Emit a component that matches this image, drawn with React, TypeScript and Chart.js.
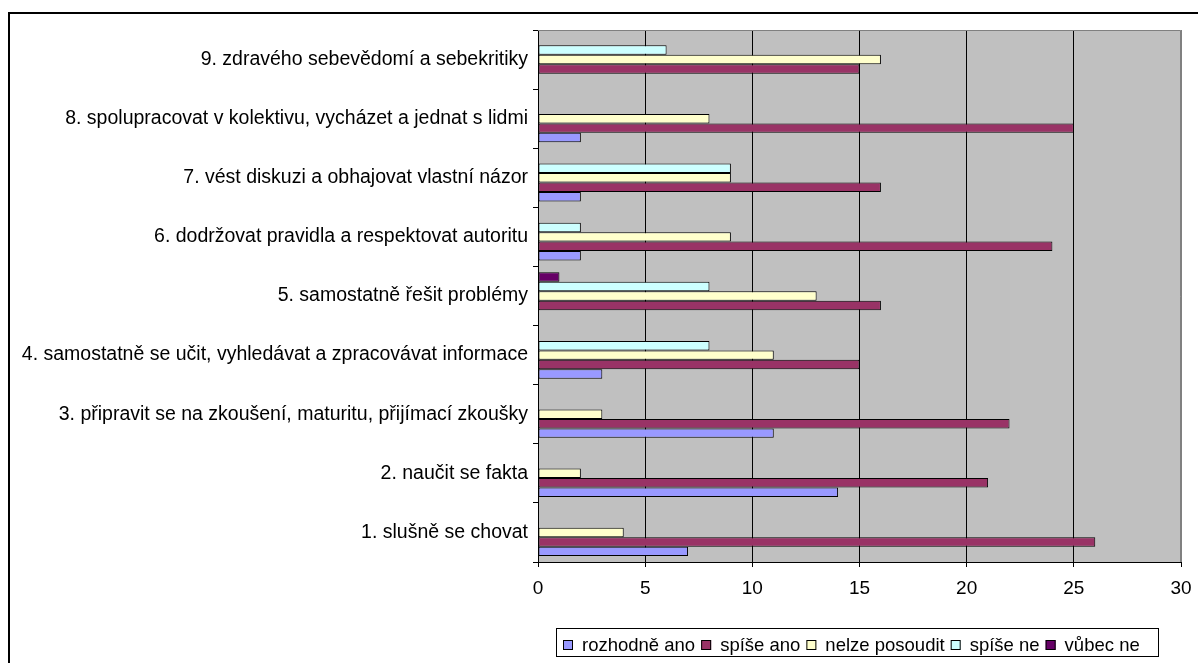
import React, { useEffect, useRef } from "react";
import { Chart, registerables } from "chart.js";

Chart.register(...registerables);

// Categories listed bottom (1) to top (9), as in the reference
const categories = [
  "1. slušně se chovat",
  "2. naučit se fakta",
  "3. připravit se na zkoušení, maturitu, přijímací zkoušky",
  "4. samostatně se učit, vyhledávat a zpracovávat informace",
  "5. samostatně řešit problémy",
  "6. dodržovat pravidla a respektovat autoritu",
  "7. vést diskuzi a obhajovat vlastní názor",
  "8. spolupracovat v kolektivu, vycházet a jednat s lidmi",
  "9. zdravého sebevědomí a sebekritiky",
];

const seriesNames = ["rozhodně ano", "spíše ano", "nelze posoudit", "spíše ne", "vůbec ne"];
const rozhodneAno = [7, 14, 11, 3, 0, 2, 2, 2, 0];
const spiseAno = [26, 21, 22, 15, 16, 24, 16, 25, 15];
const nelzePosoudit = [4, 2, 3, 11, 13, 9, 9, 8, 16];
const spiseNe = [0, 0, 0, 8, 8, 2, 9, 0, 6];
const vubecNe = [0, 0, 0, 0, 1, 0, 0, 0, 0];
const seriesColors = ["#9999FF", "#993366", "#FFFFCC", "#CCFFFF", "#660066"];
const xTicks = [0, 5, 10, 15, 20, 25, 30];

const FONT = '"Liberation Sans", Arial, sans-serif';

export default function App() {
  const ref = useRef<HTMLCanvasElement | null>(null);

  useEffect(() => {
    if (!ref.current) return;
    const allSeries = [rozhodneAno, spiseAno, nelzePosoudit, spiseNe, vubecNe];
    // chart.js draws first label at top and first dataset at top of group
    const labels = [...categories].reverse();
    const datasets = allSeries
      .map((vals, i) => ({
        label: seriesNames[i],
        data: [...vals].reverse().map((v) => (v === 0 ? null : v)),
        backgroundColor: seriesColors[i],
        borderColor: "#000000",
        borderWidth: 1,
        borderSkipped: false as const,
        categoryPercentage: 0.8,
        barPercentage: 1.0,
      }))
      .reverse();

    const decor = {
      id: "decor",
      beforeDraw(chart: any) {
        const { ctx, chartArea: a } = chart;
        ctx.save();
        ctx.fillStyle = "#ffffff";
        ctx.fillRect(0, 0, chart.width, chart.height);
        ctx.fillStyle = "#C0C0C0";
        ctx.fillRect(a.left, a.top, a.right - a.left, a.bottom - a.top);
        ctx.restore();
      },
      beforeDatasetsDraw(chart: any) {
        const { ctx, chartArea: a } = chart;
        ctx.save();
        ctx.strokeStyle = "#808080";
        ctx.lineWidth = 1;
        ctx.beginPath();
        ctx.moveTo(a.left, a.top + 0.5);
        ctx.lineTo(a.right - 0.5, a.top + 0.5);
        ctx.lineTo(a.right - 0.5, a.bottom);
        ctx.stroke();
        ctx.restore();
      },
      afterDraw(chart: any) {
        const { ctx } = chart;
        ctx.save();
        // outer frame
        ctx.fillStyle = "#000000";
        ctx.fillRect(8, 12, 2, chart.height);
        ctx.fillRect(8, 12, chart.width, 2);
        // legend box
        const boxL = 556, boxR = 1158, boxT = 628, boxB = 656;
        ctx.strokeStyle = "#000000";
        ctx.lineWidth = 1;
        ctx.strokeRect(boxL + 0.5, boxT + 0.5, boxR - boxL, boxB - boxT);
        ctx.font = "18.5px " + FONT;
        ctx.textBaseline = "middle";
        ctx.textAlign = "left";
        let x = boxL + 7;
        const cy = 645;
        seriesNames.forEach((name, i) => {
          ctx.fillStyle = seriesColors[i];
          ctx.fillRect(x, cy - 5, 10, 10);
          ctx.strokeStyle = "#000000";
          ctx.strokeRect(x + 0.5, cy - 4.5, 9, 9);
          ctx.fillStyle = "#000000";
          ctx.fillText(name, x + 19, cy + 1);
          x += 19 + ctx.measureText(name).width + 6;
        });
        ctx.restore();
      },
    };

    const chart = new Chart(ref.current, {
      type: "bar",
      data: { labels, datasets },
      options: {
        indexAxis: "y",
        animation: false,
        responsive: false,
        layout: { padding: { left: 10, top: 30, right: 17, bottom: 50 } },
        plugins: { legend: { display: false }, tooltip: { enabled: false } },
        scales: {
          x: {
            type: "linear",
            min: 0,
            max: 30,
            afterBuildTicks: (s: any) => {
              s.ticks = xTicks.map((v) => ({ value: v }));
            },
            afterFit: (s: any) => {
              s.height = 51;
              s.paddingLeft = 0;
              s.paddingRight = 0;
            },
            ticks: {
              color: "#000000",
              font: { family: FONT, size: 19 },
              padding: 10,
            },
            grid: {
              color: (c: any) => (c.tick && c.tick.value === 30 ? "#808080" : "#000000"),
              tickColor: "#000000",
              tickLength: 5,
              lineWidth: 1,
            },
            border: { display: true, color: "#000000", width: 1 },
          },
          y: {
            type: "category",
            offset: true,
            afterFit: (s: any) => {
              s.width = 528;
            },
            ticks: {
              color: "#000000",
              font: { family: FONT, size: 19.5 },
              padding: 5,
            },
            grid: {
              offset: true,
              drawOnChartArea: false,
              drawTicks: true,
              tickLength: 5,
              color: "#000000",
              tickColor: "#000000",
            },
            border: { display: true, color: "#000000", width: 1 },
          },
        },
      },
      plugins: [decor],
    });
    return () => chart.destroy();
  }, []);

  return (
    <div style={{ position: "absolute", left: 0, top: 0, width: 1198, height: 663 }}>
      <canvas ref={ref} width={1198} height={663} style={{ display: "block" }} />
    </div>
  );
}
